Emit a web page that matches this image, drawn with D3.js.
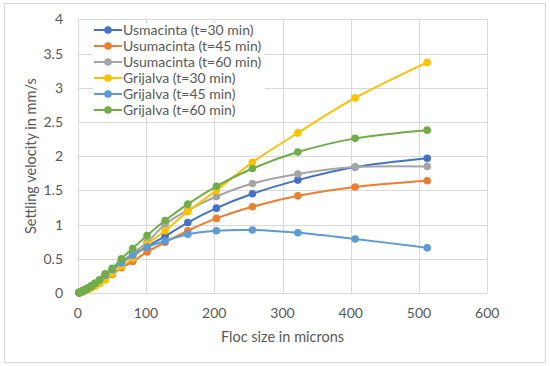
<!DOCTYPE html>
<html>
<head>
<meta charset="utf-8">
<script src="https://cdn.jsdelivr.net/npm/d3@7"></script>
<style>
  body { margin: 0; background: #fff; }
  #chart { width: 550px; height: 366px; }
  text { font-family: Lato, "Open Sans", sans-serif; fill: #595959; }
</style>
</head>
<body>
<div id="chart"></div>
<script>
// floc sizes (microns)
const flocSize = [2, 2.5, 3.2, 4, 5, 6.4, 8, 10, 12.7, 16, 20.2, 25.4, 32, 40.3, 50.8, 64, 80.6, 101.6, 128, 161.3, 203.2, 256, 322.5, 406.4, 512];

// settling velocity (mm/s)
const usuma30 = [0.005, 0.006, 0.009, 0.012, 0.016, 0.022, 0.03, 0.04, 0.055, 0.075, 0.1, 0.13, 0.18, 0.25, 0.34, 0.45, 0.56, 0.68, 0.83, 1.03, 1.24, 1.45, 1.65, 1.84, 1.97];
const usuma45 = [0.004, 0.005, 0.007, 0.01, 0.013, 0.018, 0.025, 0.033, 0.045, 0.06, 0.08, 0.11, 0.15, 0.2, 0.27, 0.37, 0.46, 0.6, 0.74, 0.91, 1.09, 1.26, 1.42, 1.55, 1.64];
const usuma60 = [0.005, 0.006, 0.009, 0.012, 0.016, 0.022, 0.03, 0.04, 0.055, 0.075, 0.1, 0.13, 0.19, 0.26, 0.35, 0.46, 0.58, 0.74, 1.0, 1.21, 1.41, 1.6, 1.74, 1.84, 1.85];
const grij30 = [0.003, 0.004, 0.006, 0.009, 0.012, 0.016, 0.022, 0.03, 0.04, 0.055, 0.075, 0.1, 0.14, 0.19, 0.28, 0.39, 0.51, 0.71, 0.91, 1.19, 1.5, 1.91, 2.34, 2.85, 3.37];
const grij45 = [0.005, 0.006, 0.009, 0.012, 0.016, 0.022, 0.03, 0.04, 0.055, 0.075, 0.1, 0.14, 0.19, 0.26, 0.34, 0.44, 0.55, 0.67, 0.76, 0.86, 0.91, 0.92, 0.88, 0.79, 0.66];
const grij60 = [0.005, 0.01, 0.012, 0.016, 0.02, 0.028, 0.036, 0.047, 0.06, 0.08, 0.1, 0.14, 0.19, 0.28, 0.36, 0.5, 0.65, 0.84, 1.06, 1.3, 1.56, 1.82, 2.06, 2.26, 2.38];

const seriesNames = ["Usmacinta (t=30 min)", "Usumacinta (t=45 min)", "Usumacinta (t=60 min)", "Grijalva (t=30 min)", "Grijalva (t=45 min)", "Grijalva (t=60 min)"];
const seriesColors = ["#4472C4", "#ED7D31", "#A5A5A5", "#FFC000", "#5B9BD5", "#70AD47"];
const seriesValues = [usuma30, usuma45, usuma60, grij30, grij45, grij60];

const xTicks = [0, 100, 200, 300, 400, 500, 600];
const yTicks = [0, 0.5, 1, 1.5, 2, 2.5, 3, 3.5, 4];

const width = 550, height = 366;

const svg = d3.select("#chart")
  .append("svg")
  .attr("width", width)
  .attr("height", height);

// chart border
svg.append("rect")
  .attr("x", 4.5).attr("y", 3.5)
  .attr("width", 541).attr("height", 359)
  .attr("fill", "#fff")
  .attr("stroke", "#D9D9D9")
  .attr("stroke-width", 1);

const x = d3.scaleLinear().domain([0, 600]).range([77.7, 487.3]);
const y = d3.scaleLinear().domain([0, 4]).range([293, 19.3]);

// gridlines
svg.append("g")
  .selectAll("line")
  .data(xTicks)
  .enter()
  .append("line")
  .attr("x1", d => Math.round(x(d)) + 0.5)
  .attr("x2", d => Math.round(x(d)) + 0.5)
  .attr("y1", y(4))
  .attr("y2", y(0))
  .attr("stroke", "#D9D9D9");

svg.append("g")
  .selectAll("line")
  .data(yTicks)
  .enter()
  .append("line")
  .attr("x1", x(0))
  .attr("x2", x(600))
  .attr("y1", d => Math.round(y(d)) + 0.5)
  .attr("y2", d => Math.round(y(d)) + 0.5)
  .attr("stroke", "#D9D9D9");

// tick labels
svg.append("g")
  .selectAll("text")
  .data(xTicks)
  .enter()
  .append("text")
  .attr("x", d => x(d))
  .attr("y", 318)
  .attr("text-anchor", "middle")
  .attr("font-size", 14)
  .text(d => d);

svg.append("g")
  .selectAll("text")
  .data(yTicks)
  .enter()
  .append("text")
  .attr("x", 63)
  .attr("y", d => y(d) + 5)
  .attr("text-anchor", "end")
  .attr("font-size", 14)
  .text(d => d);

// axis titles
svg.append("text")
  .attr("x", x(300))
  .attr("y", 342)
  .attr("text-anchor", "middle")
  .attr("font-size", 14.5)
  .text("Floc size in microns");

svg.append("text")
  .attr("transform", `translate(36, ${y(2)}) rotate(-90)`)
  .attr("text-anchor", "middle")
  .attr("font-size", 14.5)
  .text("Settling velocity in mm/s");

// series
const line = d3.line()
  .x(d => x(d[0]))
  .y(d => y(d[1]))
  .curve(d3.curveCatmullRom.alpha(0.5));

seriesValues.forEach((vals, i) => {
  const pts = flocSize.map((s, j) => [s, vals[j]]);
  const g = svg.append("g");
  g.append("path")
    .attr("d", line(pts))
    .attr("fill", "none")
    .attr("stroke", seriesColors[i])
    .attr("stroke-width", 2);
  g.selectAll("circle")
    .data(pts)
    .enter()
    .append("circle")
    .attr("cx", d => x(d[0]))
    .attr("cy", d => y(d[1]))
    .attr("r", 3.8)
    .attr("fill", seriesColors[i]);
});

// legend
const legend = svg.append("g").attr("transform", "translate(93, 23)");
legend.append("rect")
  .attr("width", 172).attr("height", 94)
  .attr("fill", "#fff");

const item = legend.selectAll("g")
  .data(seriesNames)
  .enter()
  .append("g")
  .attr("transform", (d, i) => `translate(0, ${7 + i * 16})`);

item.append("line")
  .attr("x1", 1).attr("x2", 29)
  .attr("stroke", (d, i) => seriesColors[i])
  .attr("stroke-width", 2);
item.append("circle")
  .attr("cx", 15)
  .attr("r", 3.8)
  .attr("fill", (d, i) => seriesColors[i]);
item.append("text")
  .attr("x", 30)
  .attr("y", 5)
  .attr("font-size", 14)
  .text(d => d);
</script>
</body>
</html>
